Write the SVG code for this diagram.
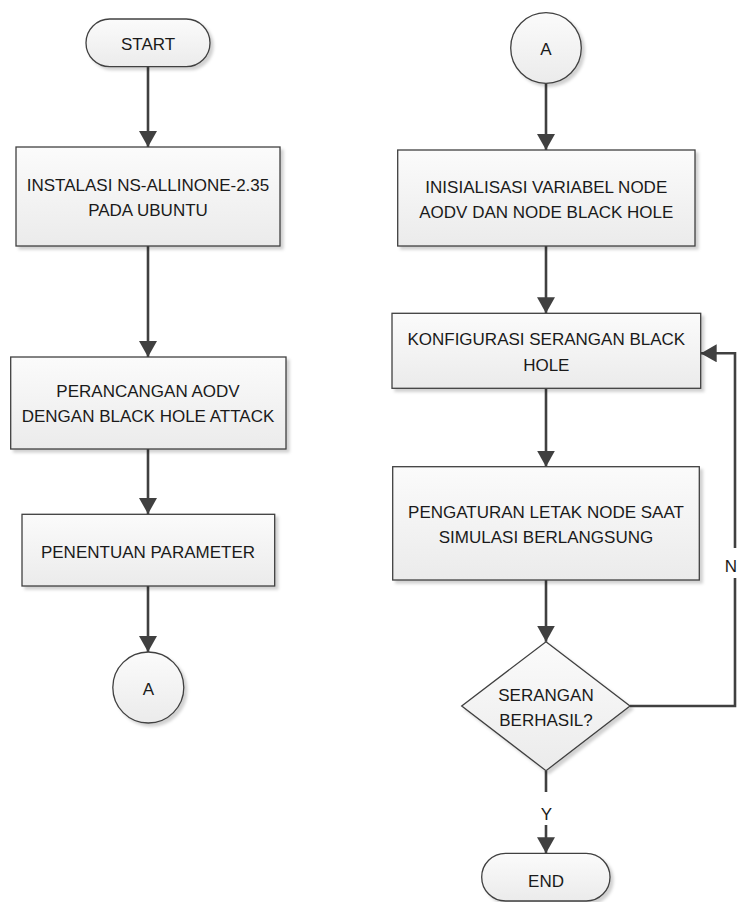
<svg xmlns="http://www.w3.org/2000/svg" width="738" height="902" viewBox="0 0 738 902">
<defs>
<linearGradient id="g" x1="0" y1="0" x2="0" y2="1">
<stop offset="0" stop-color="#fbfbfb"/>
<stop offset="1" stop-color="#ebebeb"/>
</linearGradient>
<filter id="sh" x="-10%" y="-10%" width="125%" height="130%">
<feDropShadow dx="3" dy="3" stdDeviation="1.5" flood-color="#000" flood-opacity="0.18"/>
</filter>
<marker id="ah" viewBox="0 0 16 18" refX="16" refY="9" markerWidth="16" markerHeight="18" markerUnits="userSpaceOnUse" orient="auto">
<path d="M0,0 L16,9 L0,18 z" fill="#404040"/>
</marker>
<style>
.n{fill:url(#g);stroke:#404040;stroke-width:1.3;filter:url(#sh)}
.t{font-family:"Liberation Sans",Arial,sans-serif;font-size:17px;fill:#1a1a1a;text-anchor:middle}
.c{fill:none;stroke:#404040;stroke-width:2.6}
.a{marker-end:url(#ah)}
</style>
</defs>
<rect width="738" height="902" fill="#fff"/>
<g id="connectors">
<path class="c a" d="M148,66.7 L148,147"/>
<path class="c a" d="M148,246 L148,357"/>
<path class="c a" d="M148,449 L148,514"/>
<path class="c a" d="M148,586 L148,652"/>
<path class="c a" d="M546,83.3 L546,150"/>
<path class="c a" d="M546,246 L546,313.3"/>
<path class="c a" d="M546,388.3 L546,466.7"/>
<path class="c a" d="M546,580 L546,641.7"/>
<path class="c a" d="M546,770.7 L546,853.3"/>
<path class="c a" d="M630,706 L735,706 L735,353.3 L700.7,353.3"/>
<rect x="538" y="792" width="17" height="33" fill="#fff"/>
<text class="t" x="546.5" y="820">Y</text>
<rect x="724" y="548" width="14" height="30" fill="#fff"/>
<text class="t" x="731" y="571.7">N</text>
</g>
<g id="start">
<rect class="n" x="86" y="19" width="124" height="47.7" rx="23.8"/>
<text class="t" x="148" y="50">START</text>
</g>
<g id="instalasi">
<rect class="n" x="16" y="147" width="264" height="99"/>
<text class="t" x="148" y="190.7">INSTALASI NS-ALLINONE-2.35</text>
<text class="t" x="148" y="216">PADA UBUNTU</text>
</g>
<g id="perancangan">
<rect class="n" x="10.7" y="357" width="275.3" height="92"/>
<text class="t" x="148" y="397">PERANCANGAN AODV</text>
<text class="t" x="148" y="421.7">DENGAN BLACK HOLE ATTACK</text>
</g>
<g id="penentuan">
<rect class="n" x="22" y="514.3" width="252.7" height="71.7"/>
<text class="t" x="148" y="557.7">PENENTUAN PARAMETER</text>
</g>
<g id="connector-a-out">
<circle class="n" cx="148.3" cy="687.5" r="35.5"/>
<text class="t" x="148.3" y="695">A</text>
</g>
<g id="connector-a-in">
<circle class="n" cx="546" cy="48" r="35.3"/>
<text class="t" x="546" y="55">A</text>
</g>
<g id="inisialisasi">
<rect class="n" x="397.7" y="150" width="297.3" height="96"/>
<text class="t" x="546.3" y="192.7">INISIALISASI VARIABEL NODE</text>
<text class="t" x="546.3" y="218.3">AODV DAN NODE BLACK HOLE</text>
</g>
<g id="konfigurasi">
<rect class="n" x="392" y="313.3" width="308.7" height="75"/>
<text class="t" x="546.3" y="345">KONFIGURASI SERANGAN BLACK</text>
<text class="t" x="546.3" y="370.7">HOLE</text>
</g>
<g id="pengaturan">
<rect class="n" x="392.7" y="466.7" width="306.6" height="113.3"/>
<text class="t" x="546" y="518.3">PENGATURAN LETAK NODE SAAT</text>
<text class="t" x="546" y="543.3">SIMULASI BERLANGSUNG</text>
</g>
<g id="keputusan">
<polygon class="n" points="546,641.7 630,706 546,770.7 461.7,706"/>
<text class="t" x="546" y="700.7">SERANGAN</text>
<text class="t" x="546" y="726">BERHASIL?</text>
</g>
<g id="end">
<rect class="n" x="481.7" y="853.3" width="128.3" height="47.7" rx="23.8"/>
<text class="t" x="546" y="886.7">END</text>
</g>
</svg>
